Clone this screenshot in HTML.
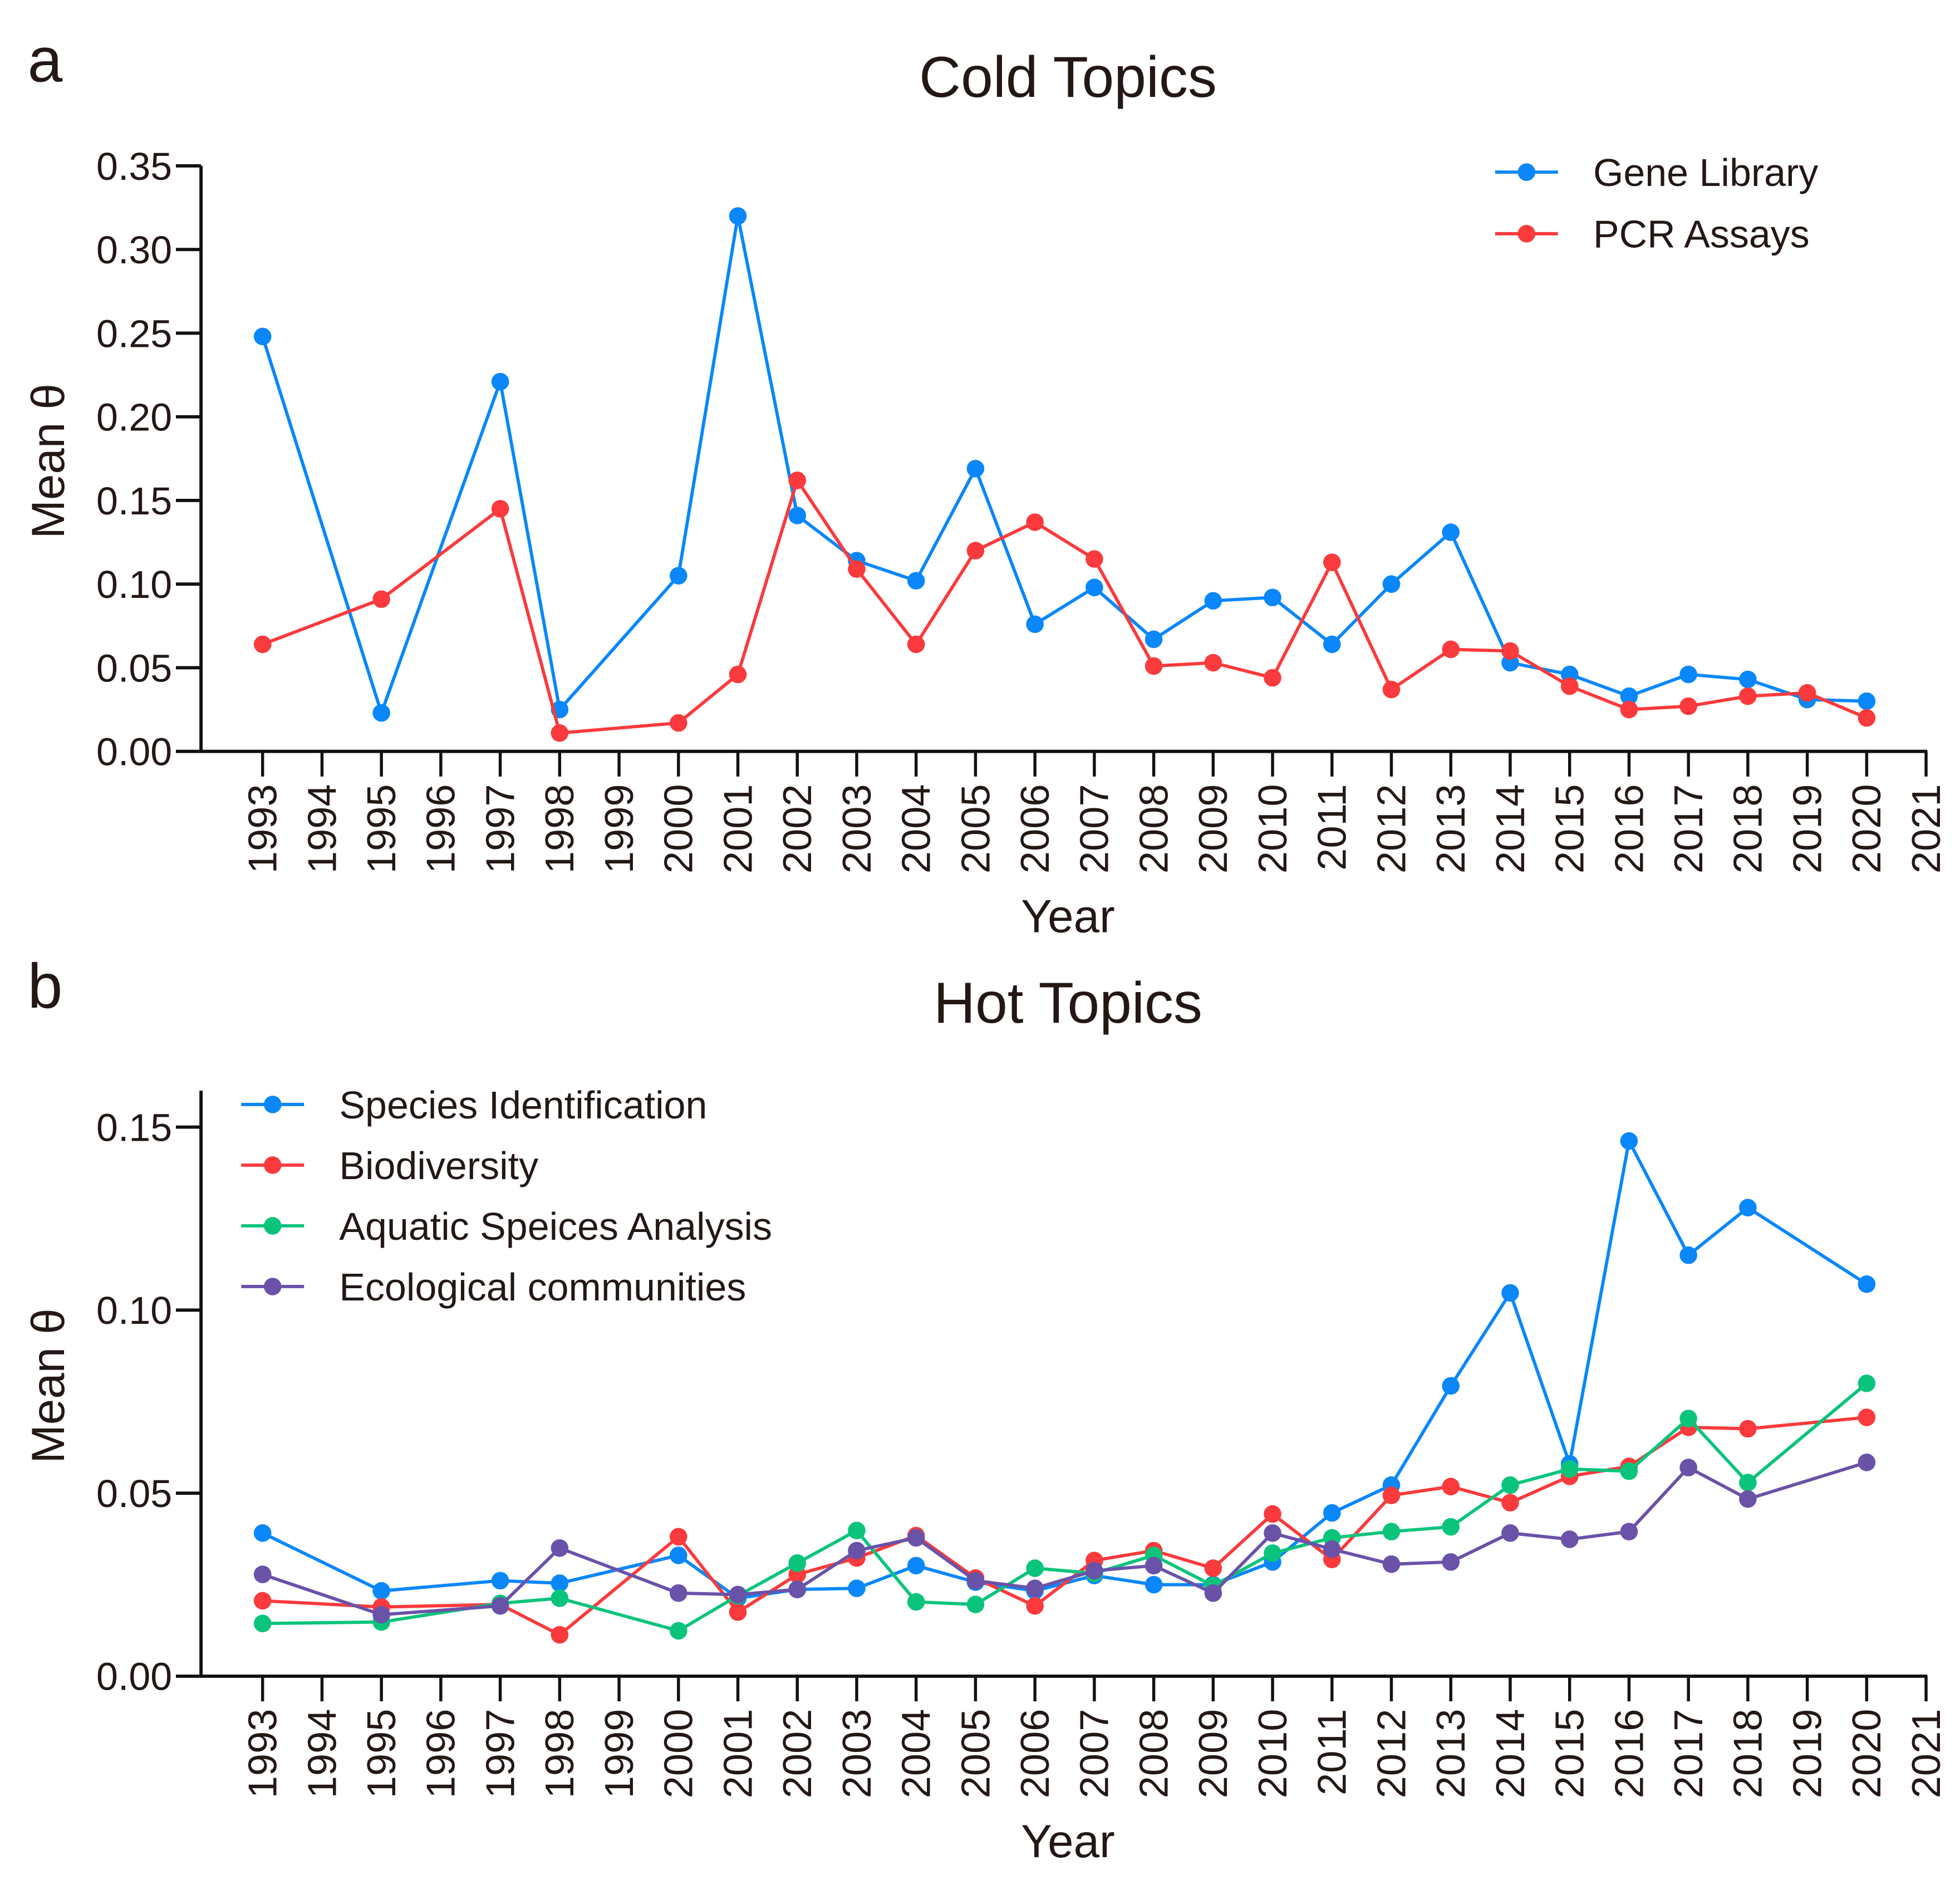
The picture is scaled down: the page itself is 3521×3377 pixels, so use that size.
<!DOCTYPE html>
<html><head><meta charset="utf-8"><style>
html,body{margin:0;padding:0;background:#fff}
svg{display:block}
text{font-family:"Liberation Sans",Arial,sans-serif;fill:#231815}
</style></head><body>
<svg id="chart" width="3521" height="3377" viewBox="0 0 1560 1496.2" xmlns="http://www.w3.org/2000/svg"></svg>
<script>
const years=[1993,1995,1997,1998,2000,2001,2002,2003,2004,2005,2006,2007,2008,2009,2010,2011,2012,2013,2014,2015,2016,2017,2018,2019,2020];
const geneLibrary=[0.248,0.023,0.221,0.025,0.105,0.320,0.141,0.114,0.102,0.169,0.076,0.098,0.067,0.090,0.092,0.064,0.100,0.131,0.053,0.046,0.033,0.046,0.043,0.031,0.030];
const pcrAssays=[0.064,0.091,0.145,0.011,0.017,0.046,0.162,0.109,0.064,0.120,0.137,0.115,0.051,0.053,0.044,0.113,0.037,0.061,0.060,0.039,0.025,0.027,0.033,0.035,0.020];
const yearsB=[1993,1995,1997,1998,2000,2001,2002,2003,2004,2005,2006,2007,2008,2009,2010,2011,2012,2013,2014,2015,2016,2017,2018,2020];
const speciesId=[0.0391,0.0233,0.0261,0.0254,0.033,0.0213,0.0237,0.024,0.0302,0.0257,0.0233,0.0275,0.025,0.025,0.0312,0.0446,0.0522,0.0793,0.1047,0.058,0.1462,0.115,0.128,0.1071];
const biodiversity=[0.0206,0.0189,0.0196,0.0113,0.0381,0.0175,0.0278,0.0323,0.0384,0.0268,0.0192,0.0316,0.0343,0.0295,0.0443,0.0319,0.0494,0.0518,0.0474,0.0546,0.0573,0.068,0.0676,0.0707];
const aquatic=[0.0144,0.0148,0.0199,0.0213,0.0124,0.022,0.0309,0.0398,0.0203,0.0196,0.0295,0.0281,0.033,0.0247,0.0336,0.0378,0.0395,0.0408,0.0522,0.0566,0.056,0.0704,0.0529,0.08];
const ecological=[0.0278,0.0168,0.0192,0.035,0.0227,0.0223,0.0237,0.0343,0.0378,0.0261,0.024,0.0288,0.0302,0.0227,0.0391,0.0347,0.0306,0.0312,0.0391,0.0374,0.0395,0.057,0.0484,0.0584];
const yTicksA=["0.00","0.05","0.10","0.15","0.20","0.25","0.30","0.35"];
const yTicksB=["0.00","0.05","0.10","0.15"];
const xTickYears=[1993,1994,1995,1996,1997,1998,1999,2000,2001,2002,2003,2004,2005,2006,2007,2008,2009,2010,2011,2012,2013,2014,2015,2016,2017,2018,2019,2020,2021];

const NS="http://www.w3.org/2000/svg";
const svg=document.getElementById('chart');
function mk(tag,attrs,parent,text){const e=document.createElementNS(NS,tag);for(const k in attrs)e.setAttribute(k,attrs[k]);if(text!==undefined)e.textContent=text;(parent||svg).appendChild(e);return e;}
const X0=160,Xfirst=209,Xlast=1533;
function xs(y){return Xfirst+(y-1993)*(Xlast-Xfirst)/28;}

function panel(cfg){
  const g=mk('g',{});
  
  
  const ys=v=>cfg.y0-(v/cfg.ymax)*(cfg.y0-cfg.ytop);
  const t=mk('text',{x:850,y:cfg.titleY,'text-anchor':'middle','font-size':46},g,cfg.title);
  
  const lt=mk('text',{x:22,y:cfg.titleY-12,'font-size':50},g,cfg.letter);
  
  const ya=mk('line',{x1:X0,y1:cfg.axTop,x2:X0,y2:cfg.y0,stroke:'#111','stroke-width':2.6},g);
  
  const xa=mk('line',{x1:X0-20,y1:cfg.y0,x2:Xlast+1,y2:cfg.y0,stroke:'#111','stroke-width':2.6},g);
  
  cfg.yTicks.forEach(lbl=>{const v=parseFloat(lbl);const y=ys(v);
    if(v>0)mk('line',{x1:X0-20,y1:y,x2:X0,y2:y,stroke:'#111','stroke-width':2.6},g);
    const tt=mk('text',{x:137,y:y+11,'text-anchor':'end','font-size':31},g,lbl);
    });
  xTickYears.forEach(yr=>{const x=xs(yr);
    mk('line',{x1:x,y1:cfg.y0,x2:x,y2:cfg.y0+20,stroke:'#111','stroke-width':2.4},g);
    const tt=mk('text',{x:0,y:0,'text-anchor':'end','font-size':32,transform:`translate(${x+11},${cfg.y0+26}) rotate(-90)`},g,String(yr));
    });
  const yl=mk('text',{x:0,y:0,'text-anchor':'middle','font-size':37,transform:`translate(51,${(cfg.axTop+cfg.y0)/2+2}) rotate(-90)`},g,'Mean θ');
  
  const xl=mk('text',{x:850,y:cfg.y0+144,'text-anchor':'middle','font-size':37},g,'Year');
  
  cfg.series.forEach((s,i)=>{
    const sg=mk('g',{},g);
    
    const pts=s.vals.map((v,j)=>xs(cfg.years[j])+','+ys(v)).join(' ');
    mk('polyline',{points:pts,fill:'none',stroke:s.color,'stroke-width':2.6},sg);
    s.vals.forEach((v,j)=>{const c=mk('circle',{cx:xs(cfg.years[j]),cy:ys(v),r:7,fill:s.color},sg);
      });
    const lg=mk('g',{},g);
    
    const ly=cfg.legY+i*cfg.legDy;
    mk('line',{x1:cfg.legX,y1:ly,x2:cfg.legX+50,y2:ly,stroke:s.color,'stroke-width':2.6},lg);
    mk('circle',{cx:cfg.legX+25,cy:ly,r:7,fill:s.color},lg);
    mk('text',{x:cfg.legX+78,y:ly+11,'font-size':31},lg,s.label);
  });
}
panel({name:'cold-topics-chart',title:'Cold Topics',letter:'a',titleY:77,y0:598,ytop:132,ymax:0.35,axTop:132,yTicks:yTicksA,years:years,
  legX:1190,legY:137,legDy:49,
  series:[{key:'gene-library',label:'Gene Library',color:'#0a87fa',vals:geneLibrary},{key:'pcr-assays',label:'PCR Assays',color:'#fa3a3c',vals:pcrAssays}]});
panel({name:'hot-topics-chart',title:'Hot Topics',letter:'b',titleY:814,y0:1334,ytop:897,ymax:0.15,axTop:868,yTicks:yTicksB,years:yearsB,
  legX:192,legY:879,legDy:48.3,
  series:[{key:'species-identification',label:'Species Identification',color:'#0a87fa',vals:speciesId},
    {key:'biodiversity',label:'Biodiversity',color:'#fa3a3c',vals:biodiversity},
    {key:'aquatic-speices-analysis',label:'Aquatic Speices Analysis',color:'#0bc47c',vals:aquatic},
    {key:'ecological-communities',label:'Ecological communities',color:'#6a52a8',vals:ecological}]});
</script>
</body></html>
